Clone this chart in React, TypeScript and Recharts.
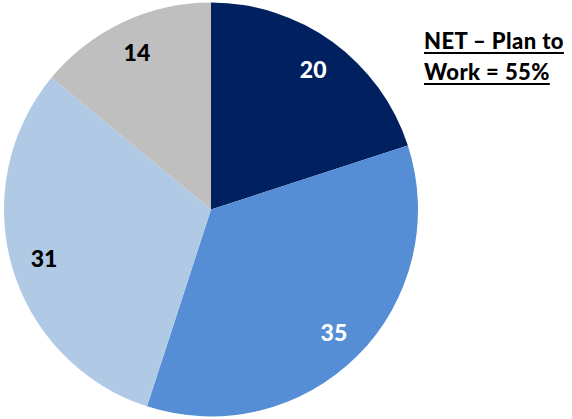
import { PieChart, Pie, Cell } from 'recharts';

const segments = ['Segment A', 'Segment B', 'Segment C', 'Segment D'];
const values = [20, 35, 31, 14];
const colors = ['#002060', '#558ED5', '#B0C9E5', '#BFBFBF'];
const labelColors = ['#FFFFFF', '#FFFFFF', '#000000', '#000000'];
const noteLines = ['NET \u2013 Plan to', 'Work = 55%'];

const data = segments.map((name, i) => ({ name, value: values[i] }));

const RADIAN = Math.PI / 180;

const renderLabel = (props: any) => {
  const { cx, cy, midAngle, outerRadius, index, value } = props;
  const r = outerRadius * 0.84;
  const x = cx + r * Math.cos(-midAngle * RADIAN);
  const y = cy + r * Math.sin(-midAngle * RADIAN);
  return (
    <text
      x={x}
      y={y}
      fill={labelColors[index]}
      textAnchor="middle"
      dominantBaseline="central"
      fontFamily="Lato, 'Open Sans', sans-serif"
      fontWeight={900}
      fontSize={23}
    >
      {value}
    </text>
  );
};

export default function App () {
  return (
    <div style={{ position: 'fixed', left: 0, top: 0, width: 572, height: 419, background: '#fff' }}>
      <PieChart width={572} height={419} margin={{ top: 0, right: 0, bottom: 0, left: 0 }}>
        <Pie
          data={data}
          dataKey="value"
          cx={211}
          cy={209.5}
          outerRadius={207}
          startAngle={90}
          endAngle={-270}
          stroke="none"
          label={renderLabel}
          labelLine={false}
          isAnimationActive={false}
        >
          {data.map((d, i) => (
            <Cell key={d.name} fill={colors[i]} />
          ))}
        </Pie>
      </PieChart>
      <div
        style={{
          position  : 'absolute',
          left      : 424,
          top       : 25,
          fontFamily: "Lato, 'Open Sans', sans-serif",
          fontWeight: 900,
          fontSize  : 22,
          letterSpacing: 0.4,
          lineHeight: '31px',
          color     : '#000',
          textDecoration: 'underline',
          textDecorationThickness: 2,
          textUnderlineOffset: 3,
          whiteSpace: 'nowrap'
        }}
      >
        {noteLines.map(line => (
          <div key={line}>{line}</div>
        ))}
      </div>
    </div>
  );
}
